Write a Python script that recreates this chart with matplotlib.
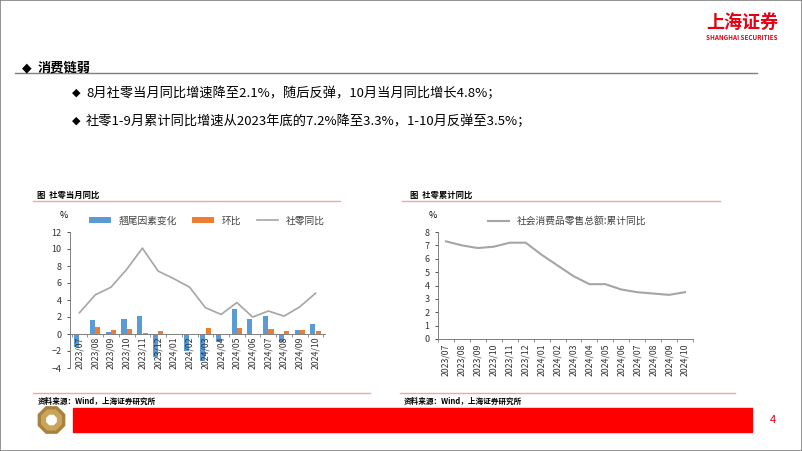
import numpy as np
import matplotlib.pyplot as plt
from matplotlib.patches import Rectangle, RegularPolygon
from matplotlib.lines import Line2D

plt.rcParams['font.family'] = ['Noto Sans CJK SC', 'DejaVu Sans']

months = ['2023/07', '2023/08', '2023/09', '2023/10', '2023/11', '2023/12',
          '2024/01', '2024/02', '2024/03', '2024/04', '2024/05', '2024/06',
          '2024/07', '2024/08', '2024/09', '2024/10']
# 社零当月同比
tail_effect = [-1.5, 1.6, 0.2, 1.8, 2.1, -2.7, 0.0, -2.0, -3.2, -0.9, 2.9, 1.8, 2.1, -0.9, 0.5, 1.2]
mom = [0.0, 0.85, 0.45, 0.6, 0.15, 0.35, 0.0, 0.05, 0.75, 0.05, 0.7, 0.05, 0.55, 0.3, 0.5, 0.4]
retail_yoy = [2.5, 4.6, 5.5, 7.6, 10.1, 7.4, 6.5, 5.5, 3.1, 2.3, 3.7, 2.0, 2.7, 2.1, 3.2, 4.8]
# 社零累计同比
retail_cum = [7.3, 7.0, 6.8, 6.9, 7.2, 7.2, 6.3, 5.5, 4.7, 4.1, 4.1, 3.7, 3.5, 3.4, 3.3, 3.5]

W, H = 802, 451
fig = plt.figure(figsize=(W / 100, H / 100), dpi=100)

def fx(px):
    return px / W

def fy(py):
    return 1 - py / H

# slide frame
fig.add_artist(Rectangle((0, 0), 1, 1, transform=fig.transFigure, fill=False,
                         edgecolor='#808080', lw=1.2))

# logo top right
fig.text(fx(742), fy(22), '上海证券', color='#E60012', fontsize=13, fontweight='bold',
         ha='center', va='center')
fig.text(fx(742), fy(37), 'SHANGHAI SECURITIES', color='#E60012', fontsize=4.5,
         ha='center', va='center', fontweight='bold')
fig.add_artist(Line2D([fx(15), fx(757)], [fy(73), fy(73)], color='#7F7F7F', lw=1,
                      transform=fig.transFigure))

fig.text(fx(22), fy(68), '◆', fontsize=9, va='center', family=['DejaVu Sans'])
fig.text(fx(38), fy(68), '消费链弱', fontsize=9.5, va='center', fontweight='bold')
fig.text(fx(72), fy(93), '◆', fontsize=8, va='center', family=['DejaVu Sans'])
fig.text(fx(86), fy(93), '8月社零当月同比增速降至2.1%，随后反弹，10月当月同比增长4.8%；',
         fontsize=9.5, va='center')
fig.text(fx(72), fy(121), '◆', fontsize=8, va='center', family=['DejaVu Sans'])
fig.text(fx(86), fy(121), '社零1-9月累计同比增速从2023年底的7.2%降至3.3%，1-10月反弹至3.5%；',
         fontsize=9.5, va='center')

# chart titles
fig.text(fx(37), fy(195), '图  社零当月同比', fontsize=6, fontweight='bold', va='center')
fig.text(fx(410), fy(195), '图  社零累计同比', fontsize=6, fontweight='bold', va='center')
for x0, x1 in [(33, 340), (402, 720)]:
    fig.add_artist(Line2D([fx(x0), fx(x1)], [fy(201), fy(201)], color='#F4A6A6', lw=1,
                          transform=fig.transFigure))

x = np.arange(len(months))
tick_kw = dict(labelsize=6.5, colors='#333333', length=2.5, width=0.6)

# left chart
ax1 = fig.add_axes([fx(70), fy(368), fx(325) - fx(70), fy(232) - fy(368)])
b1 = ax1.bar(x - 0.17, tail_effect, width=0.32, color='#5B9BD5', label='翘尾因素变化')
b2 = ax1.bar(x + 0.17, mom, width=0.32, color='#ED7D31', label='环比')
l1, = ax1.plot(x, retail_yoy, color='#A5A5A5', lw=1.2, label='社零同比')
ax1.set_ylim(-4, 12)
ax1.set_yticks(range(-4, 13, 2))
ax1.set_xlim(-0.6, len(months) - 0.4)
ax1.spines['top'].set_visible(False)
ax1.spines['right'].set_visible(False)
ax1.spines['bottom'].set_position(('data', 0))
for s in ['left', 'bottom']:
    ax1.spines[s].set_color('#7F7F7F')
    ax1.spines[s].set_linewidth(0.7)
ax1.set_xticks(x)
ax1.set_xticklabels(months, rotation=90)
ax1.tick_params(axis='both', **tick_kw)
ax1.tick_params(axis='x', direction='in', length=0, pad=2)
ax1.set_xticks(np.arange(-0.5, len(months), 1), minor=True)
ax1.tick_params(axis='x', which='minor', length=2.5, color='#7F7F7F')
ax1.tick_params(axis='y', direction='out', left=True)
for lbl in ax1.get_xticklabels():
    lbl.set_fontsize(6.3)
ax1.legend([b1, b2, l1], ['翘尾因素变化', '环比', '社零同比'],
           loc='lower left', bbox_to_anchor=(0.06, 1.02), ncol=3, frameon=False,
           fontsize=7, handlelength=2.2, handleheight=0.5, columnspacing=1.6,
           borderaxespad=0, labelcolor='#404040')
fig.text(fx(64), fy(215), '%', fontsize=6.5, ha='center', va='center')

# right chart
ax2 = fig.add_axes([fx(438), fy(339), fx(693) - fx(438), fy(232) - fy(339)])
ax2.plot(x, retail_cum, color='#A5A5A5', lw=1.5, label='社会消费品零售总额:累计同比')
ax2.set_ylim(0, 8)
ax2.set_yticks(range(0, 9))
ax2.set_xlim(-0.5, len(months) - 0.5)
ax2.spines['top'].set_visible(False)
ax2.spines['right'].set_visible(False)
for s in ['left', 'bottom']:
    ax2.spines[s].set_color('#7F7F7F')
    ax2.spines[s].set_linewidth(0.7)
ax2.set_xticks(x)
ax2.set_xticklabels(months, rotation=90)
ax2.tick_params(axis='both', **tick_kw)
ax2.tick_params(axis='x', length=0, pad=3)
ax2.set_xticks(np.arange(-0.5, len(months), 1), minor=True)
ax2.tick_params(axis='x', which='minor', length=2.5, color='#7F7F7F')
for lbl in ax2.get_xticklabels():
    lbl.set_fontsize(6.3)
ax2.legend(loc='lower left', bbox_to_anchor=(0.18, 1.02), frameon=False,
           fontsize=7, handlelength=2.2, borderaxespad=0, labelcolor='#404040')
fig.text(fx(433), fy(215), '%', fontsize=6.5, ha='center', va='center')

# footer
for x0, x1 in [(33, 370), (400, 735)]:
    fig.add_artist(Line2D([fx(x0), fx(x1)], [fy(393), fy(393)], color='#F4A6A6', lw=1,
                          transform=fig.transFigure))
fig.text(fx(38), fy(401), '资料来源：Wind，上海证券研究所', fontsize=5.5, fontweight='bold',
         style='italic', va='center')
fig.text(fx(404), fy(401), '资料来源：Wind，上海证券研究所', fontsize=5.5, fontweight='bold',
         style='italic', va='center')
fig.add_artist(Rectangle((fx(73), fy(432)), fx(752) - fx(73), fy(408) - fy(432),
                         transform=fig.transFigure, color='#FF0000'))

# logo octagon
axl = fig.add_axes([fx(33), fy(434), fx(70) - fx(33), fy(406) - fy(434)])
axl.set_xlim(-1.3, 1.3)
axl.set_ylim(-1, 1)
axl.set_aspect('equal', adjustable='datalim')
axl.axis('off')
axl.add_patch(RegularPolygon((0, 0), numVertices=8, radius=1.0, orientation=np.pi / 8,
                             color='#A8823A'))
axl.add_patch(RegularPolygon((0, 0), numVertices=8, radius=0.75, orientation=np.pi / 8,
                             color='#C9A45C'))
axl.add_patch(RegularPolygon((0, 0), numVertices=8, radius=0.35, orientation=np.pi / 8,
                             color='white'))
fig.text(fx(773), fy(420), '4', color='#E60012', fontsize=8, ha='center', va='center')

fig.savefig('out.png', dpi=100)
